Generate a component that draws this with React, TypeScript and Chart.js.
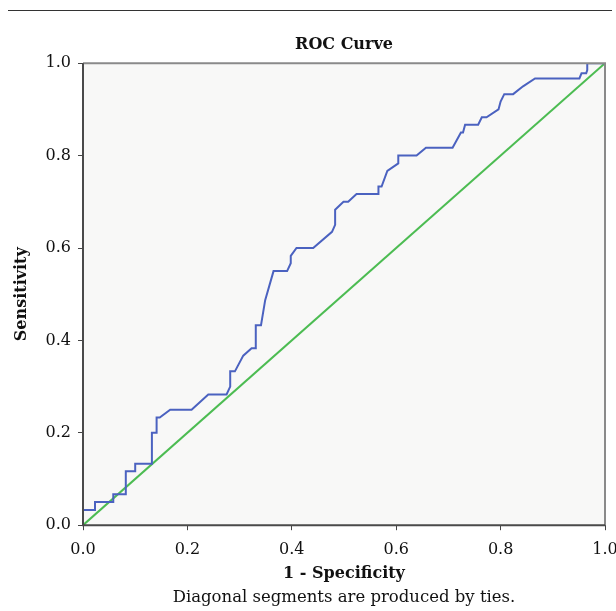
import React, { useEffect, useRef } from "react";
import { Chart, registerables } from "chart.js";

Chart.register(...registerables);

// 1 - Specificity (x) and Sensitivity (y) of the ROC curve vertices
const rocFpr = [
  0, 0, 0.023, 0.023, 0.058, 0.058, 0.082, 0.082, 0.1, 0.1, 0.132, 0.132, 0.141, 0.141,
  0.147, 0.167, 0.208, 0.24, 0.275, 0.282, 0.282, 0.291, 0.307, 0.323, 0.331, 0.331,
  0.341, 0.349, 0.365, 0.391, 0.398, 0.398, 0.409, 0.441, 0.477, 0.483, 0.483, 0.499,
  0.508, 0.524, 0.566, 0.566, 0.572, 0.583, 0.604, 0.604, 0.639, 0.657, 0.708, 0.724,
  0.728, 0.732, 0.757, 0.764, 0.773, 0.796, 0.8, 0.807, 0.824, 0.843, 0.866, 0.951,
  0.955, 0.964, 0.966, 0.966, 1,
];
const rocTpr = [
  0, 0.033, 0.033, 0.05, 0.05, 0.067, 0.067, 0.117, 0.117, 0.133, 0.133, 0.2, 0.2, 0.233,
  0.233, 0.25, 0.25, 0.283, 0.283, 0.3, 0.333, 0.333, 0.367, 0.383, 0.383, 0.433,
  0.433, 0.487, 0.55, 0.55, 0.567, 0.583, 0.6, 0.6, 0.635, 0.65, 0.683, 0.7,
  0.7, 0.717, 0.717, 0.733, 0.733, 0.767, 0.783, 0.8, 0.8, 0.817, 0.817, 0.85,
  0.85, 0.867, 0.867, 0.883, 0.883, 0.9, 0.917, 0.933, 0.933, 0.95, 0.967, 0.967,
  0.978, 0.978, 0.985, 1, 1,
];
const refFpr = [0, 1];
const refTpr = [0, 1];
const tickValues = [0, 0.2, 0.4, 0.6, 0.8, 1.0];

const titleText = "ROC Curve";
const xTitle = "1 - Specificity";
const yTitle = "Sensitivity";
const footText = "Diagonal segments are produced by ties.";

const SERIF = "'DejaVu Serif', serif";

export default function App() {
  const ref = useRef<HTMLCanvasElement | null>(null);

  useEffect(() => {
    document.body.style.margin = "0";
    const canvas = ref.current;
    if (!canvas) return;

    const framePlugin = {
      id: "frame",
      beforeDraw(chart: any) {
        const { ctx } = chart;
        ctx.save();
        ctx.strokeStyle = "#333";
        ctx.lineWidth = 1;
        ctx.beginPath();
        ctx.moveTo(8, 10.5);
        ctx.lineTo(612, 10.5);
        ctx.stroke();
        ctx.restore();
      },
      beforeDatasetsDraw(chart: any) {
        const { ctx, chartArea: a } = chart;
        ctx.save();
        ctx.fillStyle = "#f8f8f7";
        ctx.fillRect(a.left, a.top, a.right - a.left, a.bottom - a.top);
        ctx.restore();
      },
      afterDatasetsDraw(chart: any) {
        const { ctx, chartArea: a } = chart;
        ctx.save();
        ctx.lineWidth = 2;
        ctx.strokeStyle = "#8a8a8a";
        ctx.beginPath();
        ctx.moveTo(a.left, a.top);
        ctx.lineTo(a.right, a.top);
        ctx.lineTo(a.right, a.bottom);
        ctx.stroke();
        ctx.strokeStyle = "#4a4a4a";
        ctx.beginPath();
        ctx.moveTo(a.left, a.top);
        ctx.lineTo(a.left, a.bottom);
        ctx.lineTo(a.right, a.bottom);
        ctx.stroke();
        ctx.restore();
      },
    };

    const chart = new Chart(canvas, {
      type: "scatter",
      data: {
        datasets: [
          {
            label: "ROC",
            data: rocFpr.map((x, i) => ({ x, y: rocTpr[i] })),
            showLine: true,
            borderColor: "#4b62c0",
            borderWidth: 2,
            pointRadius: 0,
            tension: 0,
          },
          {
            label: "Reference",
            data: refFpr.map((x, i) => ({ x, y: refTpr[i] })),
            showLine: true,
            borderColor: "#4cbc52",
            borderWidth: 2,
            pointRadius: 0,
          },
        ],
      },
      options: {
        animation: false,
        responsive: false,
        layout: { padding: { left: 0, right: 0, top: 0, bottom: 0 } },
        plugins: {
          legend: { display: false },
          tooltip: { enabled: false },
          title: {
            display: true,
            fullSize: false,
            text: titleText,
            color: "#111",
            font: { family: SERIF, size: 16, weight: "bold" },
            padding: { top: 35, bottom: 9 },
          },
          subtitle: {
            display: true,
            fullSize: false,
            position: "bottom",
            text: footText,
            color: "#111",
            font: { family: SERIF, size: 16.5, weight: "normal" },
            padding: { top: 0, bottom: 3 },
          },
        },
        scales: {
          x: {
            type: "linear",
            min: 0,
            max: 1,
            afterBuildTicks: (s: any) => {
              s.ticks = tickValues.map((v) => ({ value: v }));
            },
            afterFit: (s: any) => {
              s.height = 63;
              s.paddingRight = 11;
              s.paddingLeft = 0;
            },
            border: { display: false },
            grid: { drawOnChartArea: false, drawTicks: true, tickLength: 5, color: "#444" },
            ticks: {
              color: "#111",
              padding: 10,
              maxRotation: 0,
              font: { family: SERIF, size: 16 },
              callback: (v: any) => Number(v).toFixed(1),
            },
            title: {
              display: true,
              text: xTitle,
              color: "#111",
              font: { family: SERIF, size: 16, weight: "bold" },
              padding: { top: 0, bottom: 5 },
            },
          },
          y: {
            type: "linear",
            min: 0,
            max: 1,
            afterBuildTicks: (s: any) => {
              s.ticks = tickValues.map((v) => ({ value: v }));
            },
            afterFit: (s: any) => {
              s.width = 83;
            },
            border: { display: false },
            grid: { drawOnChartArea: false, drawTicks: true, tickLength: 5, color: "#444" },
            ticks: {
              color: "#111",
              padding: 7,
              font: { family: SERIF, size: 16 },
              callback: (v: any) => Number(v).toFixed(1),
            },
            title: {
              display: true,
              text: yTitle,
              color: "#111",
              font: { family: SERIF, size: 16, weight: "bold" },
              padding: { top: 12, bottom: 0 },
            },
          },
        },
      },
      plugins: [framePlugin],
    });

    return () => chart.destroy();
  }, []);

  return (
    <div style={{ position: "fixed", left: 0, top: 0, width: 616, height: 611, background: "#fff" }}>
      <canvas ref={ref} width={616} height={611} style={{ display: "block" }} />
    </div>
  );
}
